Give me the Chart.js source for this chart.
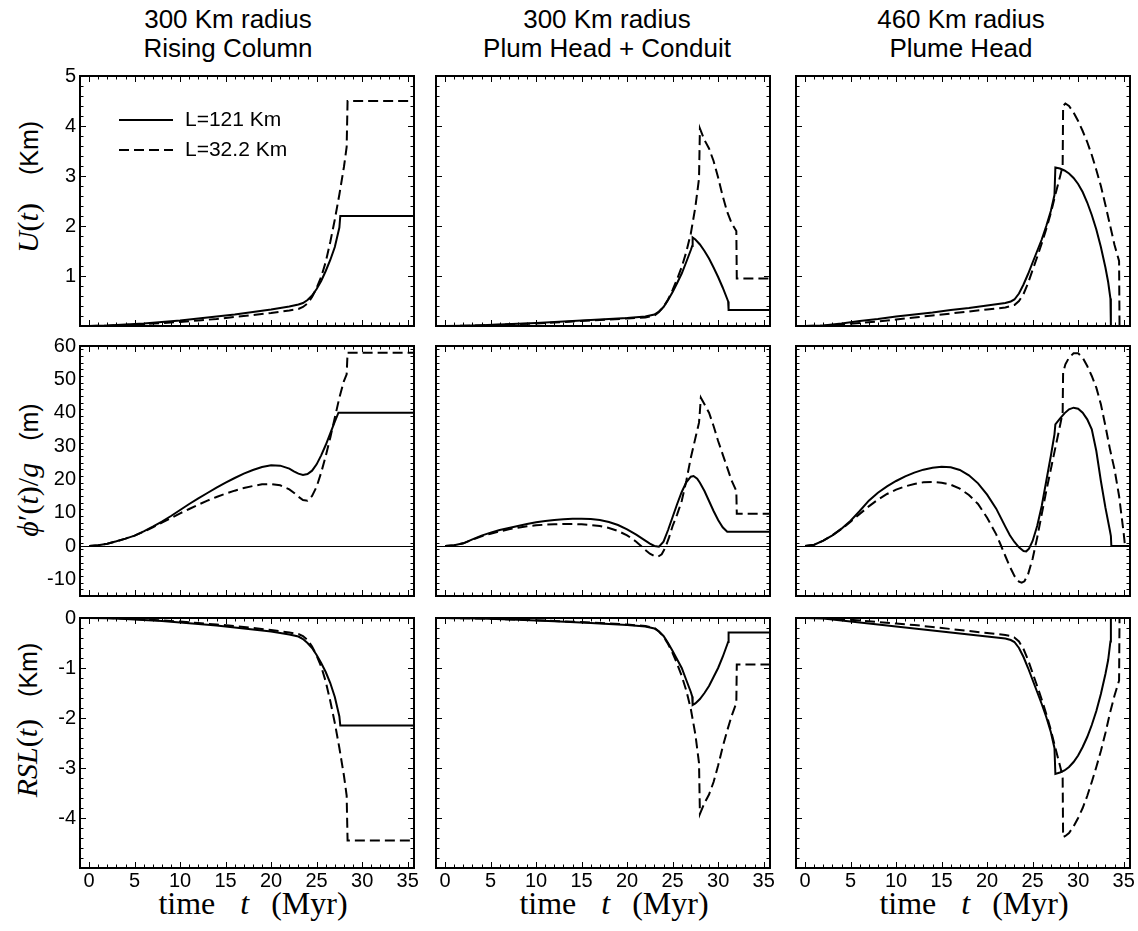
<!DOCTYPE html>
<html>
<head>
<meta charset="utf-8">
<title>Plume uplift, geoid and relative sea level</title>
<script src="https://cdn.jsdelivr.net/npm/chart.js@4.4.1/dist/chart.umd.min.js"></script>
<style>
  html, body { margin: 0; padding: 0; background: #fff; }
  #fig { position: relative; width: 1138px; height: 931px; overflow: hidden;
         font-family: "Liberation Sans", Arial, sans-serif; color: #000; }
  #fig canvas { position: absolute; }
  .coltitle { position: absolute; top: 5px; width: 360px; margin-left: -180px; text-align: center;
              font-size: 26px; line-height: 29px; white-space: nowrap; }
  .ycap { position: absolute; white-space: nowrap; transform: translate(-50%, -50%) rotate(-90deg); }
  .ycap .m { font-family: "Liberation Serif", "Times New Roman", serif; font-size: 30px; }
  .ycap .u { font-size: 25px; }
  .ycap .sp { display: inline-block; }
  .xcap { position: absolute; top: 885px; font-family: "Liberation Serif", "Times New Roman", serif;
          font-size: 32px; line-height: 36px; white-space: nowrap; transform: translateX(-50%); }
  .xcap .g1 { display: inline-block; width: 25px; }
  .xcap .g2 { display: inline-block; width: 22px; }
</style>
</head>
<body>
<div id="fig">
  <div class="coltitle" style="left:228px">300 Km radius<br>Rising Column</div>
  <div class="coltitle" style="left:607px">300 Km radius<br>Plum Head + Conduit</div>
  <div class="coltitle" style="left:961px">460 Km radius<br>Plume Head</div>

  <div class="ycap" style="left:28px; top:187px"><span class="m"><i>U</i>(<i>t</i>)</span><span class="sp" style="width:28px"></span><span class="u">(Km)</span></div>
  <div class="ycap" style="left:28px; top:470px"><span class="m"><i>ϕ</i>′(<i>t</i>)/<i>g</i></span><span class="sp" style="width:22px"></span><span class="u">(m)</span></div>
  <div class="ycap" style="left:27px; top:720px"><span class="m"><i>RSL</i>(<i>t</i>)</span><span class="sp" style="width:22px"></span><span class="u">(Km)</span></div>

  <div class="xcap" style="left:253px">time<span class="g1"></span><i>t</i><span class="g2"></span>(Myr)</div>
  <div class="xcap" style="left:614px">time<span class="g1"></span><i>t</i><span class="g2"></span>(Myr)</div>
  <div class="xcap" style="left:974px">time<span class="g1"></span><i>t</i><span class="g2"></span>(Myr)</div>
</div>

<script>
// ---------------------------------------------------------------------------
// Series: [time (Myr), value] pairs. Solid = L=121 Km, dashed = L=32.2 Km.
// ---------------------------------------------------------------------------

// Surface uplift U(t), Km
const uCol1Solid = [[0,0],[2,0.01],[4,0.03],[6,0.05],[8,0.08],[10,0.11],[12,0.15],[14,0.19],[16,0.23],[18,0.28],[20,0.33],[22,0.39],[23,0.43],[23.5,0.46],[24,0.52],[24.5,0.61],[25,0.74],[25.5,0.9],[26,1.1],[26.5,1.32],[27,1.58],[27.5,1.97],[27.6,2.2],[35.7,2.2]];
const uCol1Dashed = [[0,0],[2,0.005],[4,0.02],[6,0.04],[8,0.06],[10,0.08],[12,0.11],[14,0.14],[16,0.18],[18,0.22],[20,0.26],[22,0.31],[23,0.34],[23.5,0.38],[24,0.45],[24.5,0.58],[25,0.76],[25.5,0.98],[26,1.28],[26.5,1.68],[27,2.13],[27.5,2.63],[28,3.18],[28.3,3.58],[28.4,4.5],[35.7,4.5]];
const uCol2Solid = [[0,0],[2,0.005],[4,0.015],[6,0.03],[8,0.045],[10,0.06],[12,0.08],[14,0.1],[16,0.12],[18,0.14],[20,0.16],[22,0.19],[23,0.23],[23.5,0.29],[24,0.38],[24.5,0.52],[25,0.68],[25.5,0.86],[26,1.05],[26.5,1.28],[27,1.52],[27.15,1.6],[27.2,1.77],[27.5,1.73],[28,1.63],[28.5,1.5],[29,1.35],[29.5,1.17],[30,0.98],[30.5,0.77],[31,0.54],[31.1,0.49],[31.15,0.32],[35.7,0.32]];
const uCol2Dashed = [[0,0],[2,0.004],[4,0.012],[6,0.025],[8,0.04],[10,0.05],[12,0.07],[14,0.09],[16,0.11],[18,0.13],[20,0.15],[22,0.17],[23,0.21],[23.5,0.28],[24,0.38],[24.5,0.53],[25,0.72],[25.5,0.94],[26,1.18],[26.5,1.48],[27,1.85],[27.5,2.38],[27.9,2.95],[28,3.95],[28.5,3.72],[29,3.55],[29.5,3.3],[30,2.97],[30.5,2.6],[31,2.28],[31.5,2.05],[32,1.9],[32.05,0.95],[35.7,0.95]];
const uCol3Solid = [[0,0],[1,0.003],[2,0.01],[4,0.05],[6,0.1],[8,0.14],[10,0.19],[12,0.23],[14,0.27],[16,0.32],[18,0.36],[20,0.41],[22,0.46],[22.6,0.49],[23,0.53],[23.5,0.65],[24,0.83],[24.5,1.04],[25,1.27],[25.5,1.5],[26,1.73],[26.5,2.0],[27,2.3],[27.4,2.62],[27.5,3.17],[28,3.15],[28.5,3.11],[29,3.05],[29.5,2.96],[30,2.84],[30.5,2.68],[31,2.47],[31.5,2.22],[32,1.93],[32.5,1.58],[33,1.17],[33.3,0.88],[33.55,0.55],[33.6,0],[35.7,0]];
const uCol3Dashed = [[0,0],[2,0.005],[4,0.03],[6,0.06],[8,0.09],[10,0.13],[12,0.17],[14,0.21],[16,0.25],[18,0.29],[20,0.33],[22,0.37],[22.6,0.4],[23,0.42],[23.5,0.5],[24,0.64],[24.5,0.86],[25,1.12],[25.5,1.38],[26,1.65],[26.5,1.94],[27,2.26],[27.5,2.63],[28,2.98],[28.3,3.2],[28.35,4.4],[28.6,4.45],[29,4.4],[29.5,4.27],[30,4.1],[30.5,3.9],[31,3.68],[31.5,3.42],[32,3.12],[32.5,2.8],[33,2.42],[33.5,2.02],[34,1.62],[34.5,1.3],[34.55,0],[35.7,0]];

// Geoid anomaly phi'(t)/g, m
const phiCol1Solid = [[0,0],[1,0.2],[2,0.7],[3,1.4],[4,2.2],[5,3.1],[6,4.4],[7,5.8],[8,7.3],[9,9.0],[10,10.8],[11,12.6],[12,14.3],[13,15.9],[14,17.5],[15,19.0],[16,20.4],[17,21.7],[18,22.8],[19,23.7],[20,24.2],[21,24.1],[22,23.2],[22.5,22.4],[23,21.7],[23.5,21.3],[24,21.6],[24.5,22.6],[25,24.5],[25.5,27.2],[26,30.3],[26.5,33.8],[27,37.3],[27.4,40],[35.7,40]];
const phiCol1Dashed = [[0,0],[1,0.2],[2,0.7],[3,1.4],[4,2.2],[5,3.1],[6,4.3],[7,5.6],[8,7.0],[9,8.4],[10,9.8],[11,11.1],[12,12.4],[13,13.6],[14,14.7],[15,15.7],[16,16.6],[17,17.4],[18,18.0],[19,18.5],[20,18.6],[21,18.2],[22,17.0],[22.5,16.0],[23,14.8],[23.5,13.8],[24,13.6],[24.5,15.0],[25,17.8],[25.5,22],[26,27],[26.5,32.5],[27,38.5],[27.5,44.5],[28,49.5],[28.3,51.5],[28.4,58],[35.7,58]];
const phiCol2Solid = [[0,0],[1,0.2],[2,0.8],[3,2.0],[4,3.1],[5,4.0],[6,4.8],[7,5.4],[8,6.0],[9,6.6],[10,7.1],[11,7.5],[12,7.8],[13,8.0],[14,8.2],[15,8.2],[16,8.1],[17,7.8],[18,7.2],[19,6.3],[20,5.0],[21,3.4],[22,1.6],[22.5,0.7],[23,0],[23.5,-0.2],[24,1.3],[24.5,4.8],[25,8.7],[25.5,12.6],[26,16.2],[26.5,19.1],[27,20.8],[27.3,21.0],[27.7,20.2],[28,19.0],[28.5,16.5],[29,13.5],[29.5,10.5],[30,7.8],[30.5,5.6],[31,4.3],[35.7,4.3]];
const phiCol2Dashed = [[0,0],[1,0.2],[2,0.8],[3,1.9],[4,2.9],[5,3.7],[6,4.4],[7,5.0],[8,5.5],[9,5.9],[10,6.2],[11,6.4],[12,6.5],[13,6.6],[14,6.6],[15,6.5],[16,6.3],[17,6.0],[18,5.4],[19,4.5],[20,3.2],[21,1.3],[21.5,0.1],[22,-1.2],[22.5,-2.3],[23,-3.0],[23.4,-3.2],[23.8,-2.5],[24.2,-0.5],[24.6,2.5],[25,6],[25.5,9.5],[26,13.5],[26.5,19.5],[27,26.5],[27.3,30],[27.6,33.5],[27.9,37],[28,40.5],[28.1,44.5],[28.5,42.5],[29,40],[29.5,36],[30,31.5],[30.5,27.5],[31,23.5],[31.5,19.5],[32,16.5],[32.05,9.7],[35.7,9.7]];
const phiCol3Solid = [[0,0],[1,0.4],[2,1.6],[3,3.2],[4,5.2],[5,7.6],[6,10.5],[7,13.6],[8,16.0],[9,17.9],[10,19.5],[11,20.9],[12,22.0],[13,22.9],[14,23.5],[15,23.8],[16,23.6],[17,22.8],[18,21.2],[19,18.8],[20,15.4],[21,11.2],[22,5.8],[22.5,3.2],[23,1.2],[23.5,-0.4],[24,-1.5],[24.3,-1.6],[24.6,-0.8],[25,1.5],[25.5,6],[26,12],[26.5,19.5],[27,27],[27.4,33.5],[27.5,36.5],[28,38.2],[28.5,39.8],[29,41],[29.5,41.5],[30,41.2],[30.5,40],[31,38],[31.5,35],[32,28.5],[32.5,19.5],[33,11.5],[33.5,4.5],[33.6,3],[33.65,0],[35.7,0]];
const phiCol3Dashed = [[0,0],[1,0.4],[2,1.6],[3,3.2],[4,5.1],[5,7.3],[6,9.6],[7,11.9],[8,13.9],[9,15.6],[10,16.9],[11,17.9],[12,18.6],[13,19.1],[14,19.2],[15,19.0],[16,18.4],[17,17.2],[18,15.3],[19,12.6],[20,8.5],[21,3.5],[21.5,0.3],[22,-3],[22.5,-6.2],[23,-9],[23.5,-10.7],[23.8,-11],[24.1,-10.6],[24.5,-8.5],[25,-3.8],[25.5,2.5],[26,9.5],[26.5,16.5],[27,23],[27.5,29.5],[28,36],[28.3,40],[28.35,52],[28.6,54.5],[29,56.5],[29.5,57.8],[30,57.8],[30.5,56.5],[31,54],[31.5,51],[32,47.5],[32.5,42.5],[33,36],[33.5,29],[34,23],[34.5,15],[35,4],[35.15,0],[35.7,0]];

// Relative sea level RSL(t), Km
const rslCol1Solid = [[0,0],[2,-0.005],[4,-0.02],[6,-0.04],[8,-0.06],[10,-0.09],[12,-0.12],[14,-0.15],[16,-0.19],[18,-0.23],[20,-0.27],[22,-0.33],[23,-0.37],[23.5,-0.42],[24,-0.5],[24.5,-0.6],[25,-0.74],[25.5,-0.9],[26,-1.08],[26.5,-1.3],[27,-1.58],[27.5,-1.97],[27.6,-2.15],[35.7,-2.15]];
const rslCol1Dashed = [[0,0],[2,0],[4,-0.01],[6,-0.03],[8,-0.05],[10,-0.07],[12,-0.1],[14,-0.13],[16,-0.16],[18,-0.2],[20,-0.24],[22,-0.29],[23,-0.32],[23.5,-0.36],[24,-0.44],[24.5,-0.57],[25,-0.75],[25.5,-0.97],[26,-1.27],[26.5,-1.66],[27,-2.1],[27.5,-2.6],[28,-3.15],[28.3,-3.55],[28.4,-4.45],[35.7,-4.45]];
const rslCol2Solid = [[0,0],[4,-0.01],[8,-0.035],[12,-0.065],[16,-0.1],[20,-0.14],[22,-0.17],[23,-0.21],[23.5,-0.27],[24,-0.36],[24.5,-0.5],[25,-0.66],[25.5,-0.83],[26,-1.0],[26.5,-1.24],[27,-1.48],[27.15,-1.57],[27.2,-1.74],[27.5,-1.71],[28,-1.62],[28.5,-1.5],[29,-1.36],[29.5,-1.18],[30,-1.0],[30.5,-0.78],[31,-0.53],[31.1,-0.48],[31.15,-0.29],[35.7,-0.29]];
const rslCol2Dashed = [[0,0],[4,-0.01],[8,-0.03],[12,-0.06],[16,-0.09],[20,-0.13],[22,-0.16],[23,-0.2],[23.5,-0.27],[24,-0.37],[24.5,-0.52],[25,-0.7],[25.5,-0.92],[26,-1.16],[26.5,-1.45],[27,-1.82],[27.5,-2.33],[27.9,-2.9],[28,-3.92],[28.5,-3.7],[29,-3.53],[29.5,-3.28],[30,-2.95],[30.5,-2.58],[31,-2.25],[31.5,-1.95],[32,-1.7],[32.05,-0.93],[35.7,-0.93]];
const rslCol3Solid = [[0,0],[2,-0.01],[4,-0.05],[6,-0.09],[8,-0.13],[10,-0.17],[12,-0.21],[14,-0.25],[16,-0.29],[18,-0.33],[20,-0.37],[22,-0.41],[22.6,-0.44],[23,-0.48],[23.5,-0.6],[24,-0.78],[24.5,-1.0],[25,-1.24],[25.5,-1.48],[26,-1.72],[26.5,-1.98],[27,-2.28],[27.4,-2.6],[27.5,-3.12],[28,-3.09],[28.5,-3.05],[29,-2.98],[29.5,-2.88],[30,-2.75],[30.5,-2.58],[31,-2.38],[31.5,-2.14],[32,-1.86],[32.5,-1.52],[33,-1.12],[33.3,-0.84],[33.55,-0.47],[33.6,0],[35.7,0]];
const rslCol3Dashed = [[0,0],[2,0],[4,-0.02],[6,-0.05],[8,-0.08],[10,-0.11],[12,-0.14],[14,-0.18],[16,-0.22],[18,-0.26],[20,-0.3],[22,-0.34],[22.6,-0.36],[23,-0.39],[23.5,-0.47],[24,-0.62],[24.5,-0.84],[25,-1.1],[25.5,-1.36],[26,-1.63],[26.5,-1.92],[27,-2.24],[27.5,-2.6],[28,-2.95],[28.3,-3.17],[28.35,-4.38],[28.6,-4.36],[29,-4.3],[29.5,-4.17],[30,-4.0],[30.5,-3.8],[31,-3.56],[31.5,-3.28],[32,-2.98],[32.5,-2.66],[33,-2.3],[33.5,-1.9],[34,-1.55],[34.5,-1.25],[34.55,0],[35.7,0]];

// Tick labels
const xTicks = [0, 5, 10, 15, 20, 25, 30, 35];
const uTicks = [1, 2, 3, 4, 5];
const phiTicks = [-10, 0, 10, 20, 30, 40, 50, 60];
const rslTicks = [-4, -3, -2, -1, 0];
const seriesLabels = ['L=121 Km', 'L=32.2 Km'];

// ---------------------------------------------------------------------------
// Layout
// ---------------------------------------------------------------------------
const colLeft = [80, 436, 796];
const rowTop = [76, 346, 618];
const plotW = 334, plotH = 250;
const tMin = -1, tMax = 35.7;

const rows = [
    { min: 0,   max: 5,  ticks: uTicks,   minor: 0.2, major: 1,  zeroLine: false,
      series: [[uCol1Solid, uCol1Dashed], [uCol2Solid, uCol2Dashed], [uCol3Solid, uCol3Dashed]] },
    { min: -15, max: 60, ticks: phiTicks, minor: 2,   major: 10, zeroLine: true,
      series: [[phiCol1Solid, phiCol1Dashed], [phiCol2Solid, phiCol2Dashed], [phiCol3Solid, phiCol3Dashed]] },
    { min: -5,  max: 0,  ticks: rslTicks, minor: 0.2, major: 1,  zeroLine: false,
      series: [[rslCol1Solid, rslCol1Dashed], [rslCol2Solid, rslCol2Dashed], [rslCol3Solid, rslCol3Dashed]] }
];

const tickFont = { family: "'Liberation Sans', Arial, sans-serif", size: 20 };

// inward-pointing ticks on all four sides plus the frame
const frameTicks = {
    id: 'frameTicks',
    beforeDatasetsDraw(chart, args, opts) {
        if (!opts.zeroLine) return;
        const { ctx, chartArea: a, scales: { y } } = chart;
        const py = Math.round(y.getPixelForValue(0)) + 0.5;
        ctx.save();
        ctx.strokeStyle = '#000';
        ctx.lineWidth = 1.2;
        ctx.beginPath();
        ctx.moveTo(a.left, py);
        ctx.lineTo(a.right, py);
        ctx.stroke();
        ctx.restore();
    },
    afterDatasetsDraw(chart, args, opts) {
        const { ctx, chartArea: a, scales: { x, y } } = chart;
        const isMajor = (v, step) => Math.abs(v / step - Math.round(v / step)) < 1e-6;
        ctx.save();
        ctx.strokeStyle = '#000';
        ctx.lineWidth = 1;
        ctx.beginPath();

        for (let v = 0; v <= 35; v += 1) {
            const px = Math.round(x.getPixelForValue(v)) + 0.5;
            const len = isMajor(v, 5) ? 6 : 3.5;
            ctx.moveTo(px, a.bottom); ctx.lineTo(px, a.bottom - len);
            ctx.moveTo(px, a.top);    ctx.lineTo(px, a.top + len);
        }

        const n = Math.round((y.max - y.min) / opts.minor);
        for (let i = 1; i < n; i++) {
            const v = y.min + i * opts.minor;
            const py = Math.round(y.getPixelForValue(v)) + 0.5;
            const len = isMajor(v, opts.major) ? 6 : 3.5;
            ctx.moveTo(a.left, py);  ctx.lineTo(a.left + len, py);
            ctx.moveTo(a.right, py); ctx.lineTo(a.right - len, py);
        }
        ctx.stroke();

        ctx.lineWidth = 2;
        ctx.strokeRect(a.left, a.top, a.right - a.left, a.bottom - a.top);
        ctx.restore();
    }
};

// legend drawn inside the plot area of the first panel
const legendInset = {
    id: 'legendInset',
    afterDatasetsDraw(chart, args, opts) {
        if (!opts.show) return;
        const { ctx, chartArea: a } = chart;
        ctx.save();
        chart.data.datasets.forEach((ds, i) => {
            const y = a.top + opts.top + i * opts.rowGap;
            const x0 = a.left + opts.left;
            ctx.strokeStyle = ds.borderColor;
            ctx.lineWidth = ds.borderWidth;
            ctx.setLineDash(ds.borderDash || []);
            ctx.beginPath();
            ctx.moveTo(x0, y);
            ctx.lineTo(x0 + opts.sampleWidth, y);
            ctx.stroke();
            ctx.setLineDash([]);
            ctx.fillStyle = '#000';
            ctx.font = opts.font;
            ctx.textBaseline = 'middle';
            ctx.fillText(ds.label, x0 + opts.sampleWidth + opts.gap, y);
        });
        ctx.restore();
    }
};

const toPoints = pairs => pairs.map(([t, v]) => ({ x: t, y: v }));

function buildPanel(r, c) {
    const row = rows[r];
    const padL = c === 0 ? 80 : 8;
    const padR = 16, padT = 16;
    const padB = r === 2 ? 44 : 16;

    const canvas = document.createElement('canvas');
    canvas.width = padL + plotW + padR;
    canvas.height = padT + plotH + padB;
    canvas.style.left = (colLeft[c] - padL) + 'px';
    canvas.style.top = (rowTop[r] - padT) + 'px';
    document.getElementById('fig').appendChild(canvas);

    const [solid, dashed] = row.series[c];
    const lineStyle = { borderColor: '#000', borderWidth: 2, pointRadius: 0, tension: 0, fill: false, clip: 0 };

    return new Chart(canvas, {
        type: 'line',
        data: {
            datasets: [
                { ...lineStyle, label: seriesLabels[0], data: toPoints(solid) },
                { ...lineStyle, label: seriesLabels[1], data: toPoints(dashed), borderDash: [10, 5] }
            ]
        },
        options: {
            responsive: false,
            animation: false,
            devicePixelRatio: 1,
            events: [],
            layout: { autoPadding: false, padding: { left: 0, top: padT, right: padR, bottom: 0 } },
            plugins: {
                legend: { display: false },
                tooltip: { enabled: false },
                frameTicks: { minor: row.minor, major: row.major, zeroLine: row.zeroLine },
                legendInset: {
                    show: r === 0 && c === 0,
                    left: 39, top: 44, rowGap: 30, sampleWidth: 54, gap: 12,
                    font: "21px 'Liberation Sans', Arial, sans-serif"
                }
            },
            scales: {
                x: {
                    type: 'linear',
                    min: tMin,
                    max: tMax,
                    afterBuildTicks: s => { s.ticks = xTicks.map(v => ({ value: v })); },
                    afterFit: s => { s.height = padB; },
                    grid: { display: false, drawTicks: false },
                    border: { display: false },
                    ticks: { display: r === 2, color: '#000', font: tickFont, padding: 1, maxRotation: 0, autoSkip: false }
                },
                y: {
                    type: 'linear',
                    min: row.min,
                    max: row.max,
                    afterBuildTicks: s => { s.ticks = row.ticks.map(v => ({ value: v })); },
                    afterFit: s => { s.width = padL; },
                    grid: { display: false, drawTicks: false },
                    border: { display: false },
                    ticks: { display: c === 0, color: '#000', font: tickFont, padding: 4, autoSkip: false }
                }
            }
        },
        plugins: [frameTicks, legendInset]
    });
}

for (let r = 0; r < 3; r++) {
    for (let c = 0; c < 3; c++) {
        buildPanel(r, c);
    }
}
</script>
</body>
</html>
